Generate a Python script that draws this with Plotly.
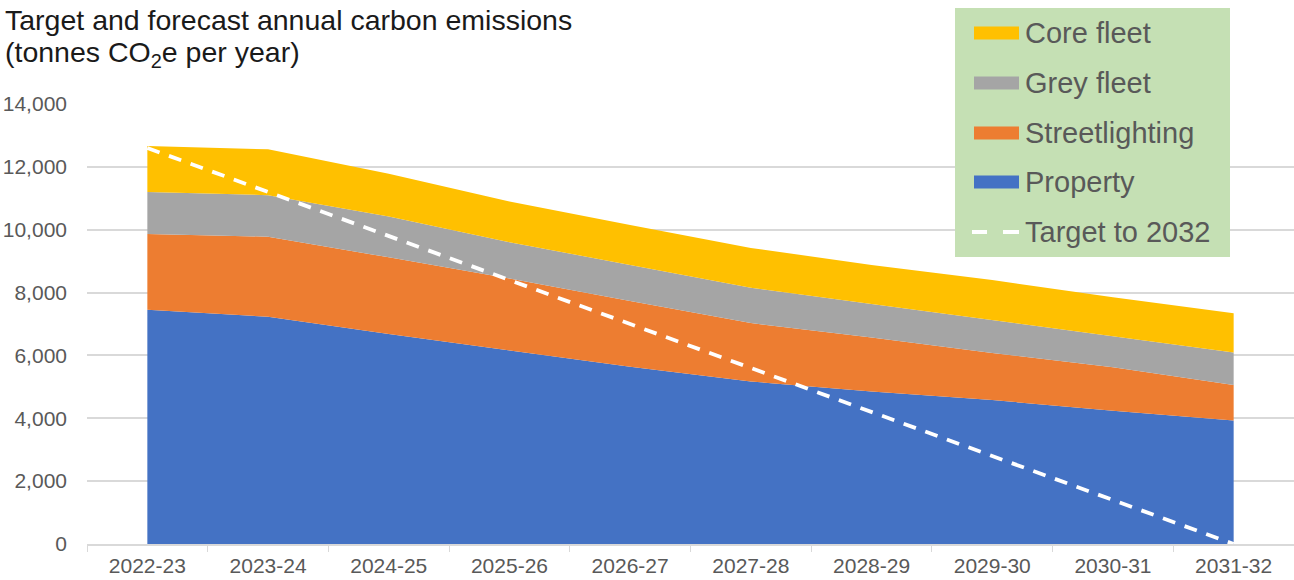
import plotly.graph_objects as go

years = ["2022-23", "2023-24", "2024-25", "2025-26", "2026-27",
         "2027-28", "2028-29", "2029-30", "2030-31", "2031-32"]
property_ = [7450, 7230, 6680, 6150, 5640, 5170, 4850, 4580, 4240, 3930]
streetlighting = [2410, 2550, 2440, 2300, 2090, 1860, 1720, 1500, 1380, 1130]
grey_fleet = [1340, 1320, 1300, 1150, 1150, 1120, 1070, 1050, 1000, 1030]
core_fleet = [1460, 1460, 1360, 1300, 1270, 1270, 1240, 1270, 1230, 1250]
target = [12600, 11200, 9800, 8400, 7000, 5600, 4200, 2800, 1400, 0]

series = [
    ("Property", property_, "#4472C4"),
    ("Streetlighting", streetlighting, "#ED7D31"),
    ("Grey fleet", grey_fleet, "#A5A5A5"),
    ("Core fleet", core_fleet, "#FFC000"),
]

W, H = 1294, 580
L, R, T, B = 87, 0, 104, 36
pw, ph = W - L - R, H - T - B
FONT = "Liberation Sans, Arial, sans-serif"


def px(x):
    return (x - L) / pw


def py(y):
    return (H - B - y) / ph


fig = go.Figure()
for name, vals, col in series:
    fig.add_trace(go.Scatter(
        x=years, y=vals, name=name, mode="lines", stackgroup="s",
        line=dict(width=0, color=col), fillcolor=col, showlegend=False,
        hoverinfo="x+y+name"))

fig.add_trace(go.Scatter(
    x=years, y=target, name="Target to 2032", mode="lines",
    line=dict(color="white", width=3.8, dash="13px,10px"), showlegend=False))

shapes = []
annotations = []

# Legend box
shapes.append(dict(type="rect", xref="paper", yref="paper",
                   x0=px(955), x1=px(1230), y0=py(257), y1=py(8),
                   fillcolor="#C5E0B4", line=dict(width=0), layer="above"))

legend_items = [("Core fleet", "#FFC000", 33),
                ("Grey fleet", "#A5A5A5", 83),
                ("Streetlighting", "#ED7D31", 133),
                ("Property", "#4472C4", 182)]
for name, col, yc in legend_items:
    shapes.append(dict(type="rect", xref="paper", yref="paper",
                       x0=px(974), x1=px(1019), y0=py(yc + 6.5), y1=py(yc - 6.5),
                       fillcolor=col, line=dict(width=0), layer="above"))
    annotations.append(dict(text=name, xref="paper", yref="paper",
                            x=px(1023), y=py(yc), xanchor="left", yanchor="middle",
                            showarrow=False,
                            font=dict(size=29, color="#595959", family=FONT)))
# Target legend key
for x0, x1 in [(972, 987), (1003, 1019)]:
    shapes.append(dict(type="line", xref="paper", yref="paper",
                       x0=px(x0), x1=px(x1), y0=py(232), y1=py(232),
                       line=dict(color="white", width=4), layer="above"))
annotations.append(dict(text="Target to 2032", xref="paper", yref="paper",
                        x=px(1023), y=py(232), xanchor="left", yanchor="middle",
                        showarrow=False,
                        font=dict(size=29, color="#595959", family=FONT)))

# Title (two lines)
annotations.append(dict(
    text="Target and forecast annual carbon emissions",
    xref="paper", yref="paper", x=px(3), y=py(20), xanchor="left", yanchor="middle",
    align="left", showarrow=False,
    font=dict(size=28.5, color="#1a1a1a", family=FONT)))
annotations.append(dict(
    text="(tonnes CO<sub>2</sub>e per year)",
    xref="paper", yref="paper", x=px(3), y=py(54), xanchor="left", yanchor="middle",
    align="left", showarrow=False,
    font=dict(size=28.5, color="#1a1a1a", family=FONT)))

fig.update_layout(
    width=W, height=H,
    margin=dict(l=L, r=R, t=T, b=B, pad=0),
    paper_bgcolor="white", plot_bgcolor="white",
    font=dict(family=FONT, color="#595959"),
    shapes=shapes, annotations=annotations,
    xaxis=dict(type="category", range=[-0.5, 9.5], tickson="boundaries",
               ticks="outside", ticklen=6, tickcolor="#D9D9D9",
               showline=True, linecolor="#D9D9D9", linewidth=1.5,
               showgrid=False, tickfont=dict(size=21, color="#595959"),
               ticklabelstandoff=2, fixedrange=True),
    yaxis=dict(range=[0, 14000], dtick=2000, tickformat=",",
               showgrid=True, gridcolor="#D9D9D9", gridwidth=1.5,
               zeroline=False, showline=False, ticks="",
               ticklabelstandoff=19,
               tickfont=dict(size=21, color="#595959"), fixedrange=True),
    showlegend=False,
)

fig.write_html("out.html")
